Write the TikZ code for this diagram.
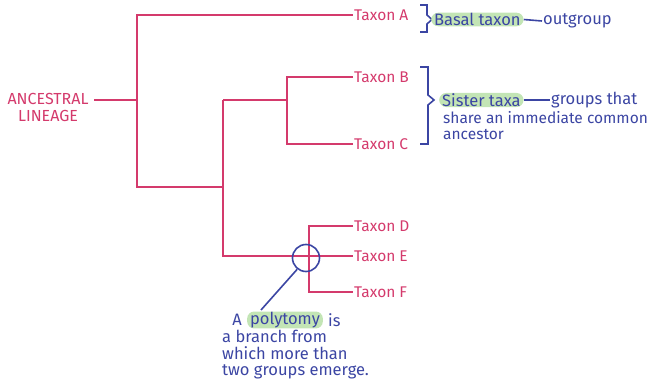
\documentclass[tikz,border=0pt]{standalone}
\usepackage{fontspec}
\setmainfont{Fira Sans}
\definecolor{pinkc}{HTML}{D43A6C}
\definecolor{bluec}{HTML}{3B45A3}
\definecolor{greenh}{HTML}{C3E5B5}
\begin{document}
\begin{tikzpicture}[x=1pt,y=-1pt,
  branch/.style={draw=pinkc,line width=1.8pt},
  taxon/.style={anchor=west,text=pinkc,font=\fontsize{15.5}{16}\selectfont,inner sep=1pt},
  note/.style={text=bluec,font=\fontsize{16.5}{16.5}\selectfont,inner sep=1pt},
  hl/.style={note,fill=greenh,rounded corners=7pt,inner xsep=3pt,inner ysep=0.5pt},
  bluel/.style={draw=bluec,line width=1.6pt}]
\useasboundingbox (0,0) rectangle (665,379);
% ancestral lineage
\node[text=pinkc,align=center,font=\fontsize{16}{17}\selectfont,inner sep=0] (anc) at (48,107) {ANCESTRAL\\LINEAGE};
\coordinate (ancend) at (94,100);
% junctions
\coordinate (j1) at (137,100);
\coordinate (j2) at (223,187);
\coordinate (j3) at (223,100);
\coordinate (j5) at (287,100);
\coordinate (j6) at (309,258);
% taxa
\node[taxon] (A) at (353,15) {Taxon A};
\node[taxon] (B) at (353,77) {Taxon B};
\node[taxon] (C) at (353,144) {Taxon C};
\node[taxon] (D) at (353,226) {Taxon D};
\node[taxon] (E) at (353,256) {Taxon E};
\node[taxon] (F) at (353,292) {Taxon F};
% branches
\draw[branch] (ancend) -- (j1);
\draw[branch] (A.west) -| (j1) |- (j2);
\draw[branch] (j3) |- (E.west);
\draw[branch] (j3) -- (j5);
\draw[branch] (B.west) -| (j5) |- (C.west);
\draw[branch] (D.west) -| (j6) |- (F.west);
% brackets
\draw[bluel,line join=miter] (420,5) -- (427,5) -- (427,15) -- (432,19.5) -- (427,24) -- (427,32) -- (420,32);
\draw[bluel,line join=miter] (420,67) -- (428,67) -- (428,95) -- (434,100) -- (428,105) -- (428,144) -- (420,144);
% basal taxon
\node[hl,anchor=west] (basal) at (431,19.5) {Basal taxon};
\node[note,anchor=west] (outg) at (542,21) {outgroup};
\draw[bluel] (basal.east) -- (outg.west);
% sister taxa
\node[hl,anchor=west] (sister) at (439,100) {Sister taxa};
\node[note,anchor=west] (groups) at (550,100) {groups that};
\draw[bluel] (sister.east) -- (groups.west);
\node[note,anchor=north west,align=left,font=\fontsize{15.5}{16.5}\selectfont] (share) at (442,110) {share an immediate common\\ancestor};
% polytomy
\node[circle,draw=bluec,line width=1.6pt,minimum size=27pt,inner sep=0] (circ) at (306,258) {};
\node[hl] (poly) at (285,320) {polytomy};
\node[note,anchor=east] (pA) at (243,320) {A};
\node[note,anchor=west] (pis) at (327,320) {is};
\coordinate (ptr) at (261,310);
\draw[bluel] (circ.232) -- (ptr);
\node[note,anchor=north west,align=left] (ptext) at (221,329) {a branch from\\which more than\\two groups emerge.};
\end{tikzpicture}
\end{document}
